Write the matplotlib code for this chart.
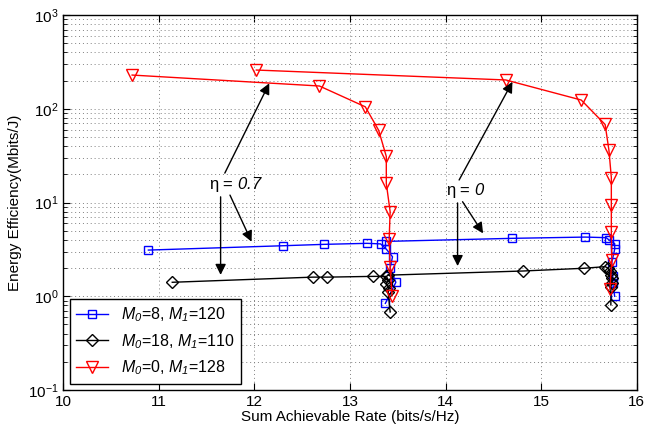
import matplotlib
matplotlib.use('Agg')
import matplotlib.pyplot as plt

plt.rcParams['font.family'] = ['Liberation Sans', 'DejaVu Sans']
# math parts are italic in the original (M_0, M_1, 0.7 ...)
plt.rcParams['mathtext.fontset'] = 'custom'
plt.rcParams['mathtext.rm'] = 'Liberation Sans:italic'
plt.rcParams['mathtext.it'] = 'Liberation Sans:italic'
plt.rcParams['mathtext.sf'] = 'Liberation Sans'

# M0=8, M1=120 (blue squares)
blue_x_07 = [10.89, 12.30, 12.73, 13.18, 13.32, 13.38, 13.445, 13.42, 13.48, 13.37]
blue_y_07 = [3.11, 3.46, 3.58, 3.67, 3.62, 3.18, 2.64, 2.0, 1.41, 0.84]
blue_x_0 = [13.38, 14.70, 15.46, 15.68, 15.71, 15.77, 15.77, 15.74, 15.75, 15.75, 15.77]
blue_y_0 = [3.85, 4.15, 4.28, 4.22, 4.0, 3.65, 3.17, 2.3, 1.65, 1.37, 1.0]

# M0=18, M1=110 (black diamonds)
black_x_07 = [11.14, 12.61, 12.76, 13.24, 13.38, 13.40, 13.38, 13.41, 13.40, 13.42]
black_y_07 = [1.41, 1.60, 1.60, 1.63, 1.63, 1.50, 1.35, 1.22, 1.10, 0.68]
black_x_0 = [13.40, 14.81, 15.45, 15.67, 15.70, 15.72, 15.73, 15.74, 15.74, 15.73, 15.73]
black_y_0 = [1.68, 1.86, 1.99, 2.07, 2.0, 1.85, 1.7, 1.55, 1.4, 1.25, 0.81]

# M0=0, M1=128 (red triangles)
red_x_07 = [10.72, 12.68, 13.16, 13.30, 13.38, 13.38, 13.42, 13.41, 13.42, 13.44]
red_y_07 = [229, 175, 105, 59, 31, 16, 8.0, 4.1, 2.07, 1.01]
red_x_0 = [12.02, 14.63, 15.42, 15.67, 15.71, 15.735, 15.735, 15.735, 15.74, 15.72]
red_y_0 = [259, 203, 124, 68, 36, 18.4, 9.4, 4.8, 2.44, 1.19]

labels = [r'$M_0$=8, $M_1$=120',
          r'$M_0$=18, $M_1$=110',
          r'$M_0$=0, $M_1$=128']

yticks = [0.1, 1, 10, 100, 1000]
ytick_labels = [r'10$^{\mathsf{-1}}$', r'10$^{\mathsf{0}}$', r'10$^{\mathsf{1}}$',
                r'10$^{\mathsf{2}}$', r'10$^{\mathsf{3}}$']

fig = plt.figure(figsize=(6.59, 4.3), dpi=100)
ax = fig.add_axes([0.0961, 0.093, 0.87, 0.872])

# blue
ax.plot(blue_x_07, blue_y_07, color='b', marker='s', ms=6, mfc='none', lw=1, label=labels[0])
ax.plot(blue_x_0, blue_y_0, color='b', marker='s', ms=6, mfc='none', lw=1)
# black
ax.plot(black_x_07, black_y_07, color='k', marker='D', ms=6, mfc='none', lw=1, label=labels[1])
ax.plot(black_x_0, black_y_0, color='k', marker='D', ms=6, mfc='none', lw=1)
# red
ax.plot(red_x_07, red_y_07, color='r', marker='v', ms=8, mfc='none', lw=1, label=labels[2])
ax.plot(red_x_0, red_y_0, color='r', marker='v', ms=8, mfc='none', lw=1)

ax.set_yscale('log')
ax.set_xlim(10, 16)
ax.set_ylim(0.1, 1000)
ax.set_xticks([10, 11, 12, 13, 14, 15, 16])
ax.set_yticks(yticks)
ax.set_yticklabels(ytick_labels)

ax.grid(True, which='major', linestyle=(0, (1, 3)), color='0.5', lw=0.7)
ax.grid(True, which='minor', axis='y', linestyle=(0, (1, 3)), color='0.5', lw=0.7)
ax.tick_params(which='both', direction='in', top=True, right=True, labelsize=11)
ax.tick_params(which='major', length=5)
ax.tick_params(which='minor', length=3)
for s in ax.spines.values():
    s.set_linewidth(1)

ax.set_xlabel('Sum Achievable Rate (bits/s/Hz)', fontsize=11, labelpad=1)
ax.set_ylabel('Energy Efficiency(Mbits/J)', fontsize=11, labelpad=4)

# annotations
arrow = dict(arrowstyle='-|>', color='k', lw=1, mutation_scale=16, shrinkA=0, shrinkB=0)
ax.text(11.81, 15.4, r'η = $0.7$', fontsize=12, ha='center', va='center')
ax.annotate('', xy=(12.155, 187), xytext=(11.69, 20.6), arrowprops=arrow)
ax.annotate('', xy=(11.97, 3.82), xytext=(11.744, 12.0), arrowprops=arrow)
ax.annotate('', xy=(11.646, 1.69), xytext=(11.646, 11.5), arrowprops=arrow)

ax.text(14.21, 13.6, r'η = $0$', fontsize=12, ha='center', va='center')
ax.annotate('', xy=(14.70, 194), xytext=(14.142, 17.4), arrowprops=arrow)
ax.annotate('', xy=(14.393, 4.69), xytext=(14.178, 10.2), arrowprops=arrow)
ax.annotate('', xy=(14.126, 2.1), xytext=(14.126, 9.9), arrowprops=arrow)

leg = ax.legend(loc='lower left', fontsize=11.5, fancybox=False, framealpha=1,
                edgecolor='k', borderaxespad=0.4, handlelength=2.0)
leg.get_frame().set_linewidth(1)

fig.savefig('out.png', dpi=100)
